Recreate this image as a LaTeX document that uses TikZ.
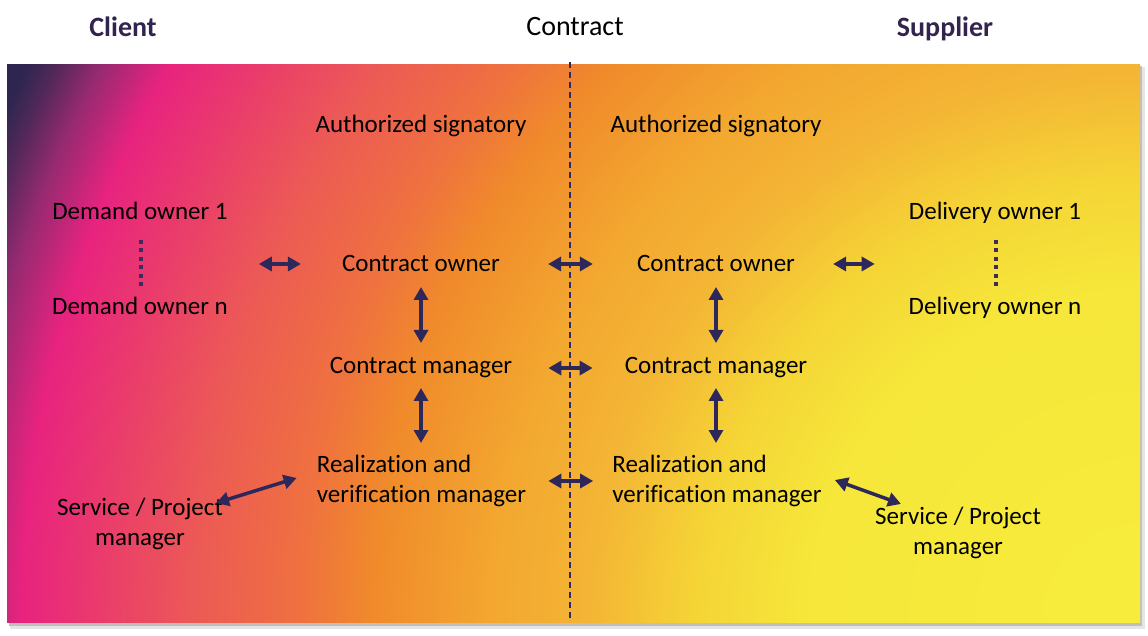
\documentclass[tikz,border=0pt]{standalone}
\usepackage{fontspec}
\setmainfont{Carlito}[Ligatures=NoCommon]
\usetikzlibrary{arrows.meta,calc}
\definecolor{g0}{HTML}{F7EC3B}
\definecolor{g1}{HTML}{F6E73A}
\definecolor{g2}{HTML}{F5D536}
\definecolor{g3}{HTML}{F4B535}
\definecolor{g4}{HTML}{F3A830}
\definecolor{g5}{HTML}{F08A2B}
\definecolor{g6}{HTML}{EF7040}
\definecolor{g7}{HTML}{EC5A55}
\definecolor{g8}{HTML}{EA3E6A}
\definecolor{g9}{HTML}{E8237F}
\definecolor{g10}{HTML}{952A70}
\definecolor{g11}{HTML}{4F2858}
\definecolor{g12}{HTML}{2E2650}
\definecolor{arrc}{HTML}{2E285A}
\definecolor{dotc}{HTML}{3E2B5E}
\definecolor{dashc}{HTML}{2B2A66}
\definecolor{titlec}{HTML}{33244F}
\pgfdeclareradialshading{bgrad}{\pgfpoint{0bp}{0bp}}{%
color(0bp)=(g0); color(330bp)=(g1); color(440bp)=(g2); color(547bp)=(g3);
color(641bp)=(g4); color(765bp)=(g5); color(840bp)=(g6); color(940bp)=(g7);
color(1030bp)=(g8); color(1115bp)=(g9); color(1175bp)=(g10); color(1215bp)=(g11);
color(1240bp)=(g12); color(1300bp)=(g12)}
\begin{document}
\begin{tikzpicture}[x=1pt,y=1pt,
  txt/.style={font=\fontsize{25pt}{30pt}\selectfont, inner sep=0pt, text=black},
  ttl/.style={font=\fontsize{28pt}{32pt}\selectfont\bfseries, inner sep=0pt, text=titlec},
  biarr/.style={line width=3.5pt, draw=arrc, {Triangle[length=13pt,width=14pt]}-{Triangle[length=13pt,width=14pt]}},
  dotl/.style={draw=dotc, line width=4.5pt, dash pattern=on 4pt off 4.5pt},
  midl/.style={draw=dashc, line width=1.5pt, dash pattern=on 6pt off 4pt}]
\useasboundingbox (0,0) rectangle (1148,635);
\fill[white] (0,0) rectangle (1148,635);
% shadow
\fill[black!10] (10,6) rectangle (1145,568);
\fill[black!25] (9,9) rectangle (1142,569);
% gradient panel
\begin{scope}
  \clip (7,13) rectangle (1140,570);
  \node[inner sep=0pt] (bgshade) at (1140,13) {\pgfuseshading{bgrad}};
\end{scope}
% contract divider
\coordinate (mtop) at (570,573);
\coordinate (mbot) at (570,17);
\draw[midl] (mtop) -- (mbot);
% titles
\node[ttl, anchor=base] (client) at (123,598) {Client};
\node[ttl, anchor=base] (supplier) at (945,598) {Supplier};
\node[font=\fontsize{28pt}{32pt}\selectfont, inner sep=0pt, anchor=base] (contract) at (575,599) {Contract};
% nodes
\node[txt, anchor=base] (ASL) at (421,502) {Authorized signatory};
\node[txt, anchor=base] (ASR) at (716,502) {Authorized signatory};
\node[txt, anchor=base] (Dem1) at (140,415) {Demand owner 1};
\node[txt, anchor=base] (DemN) at (140,320) {Demand owner n};
\node[txt, anchor=base] (Del1) at (995,415) {Delivery owner 1};
\node[txt, anchor=base] (DelN) at (995,320) {Delivery owner n};
\node[txt, anchor=base] (COL) at (421,363) {Contract owner};
\node[txt, anchor=base] (COR) at (716,363) {Contract owner};
\node[txt, anchor=base] (CML) at (421,261) {Contract manager};
\node[txt, anchor=base] (CMR) at (716,261) {Contract manager};
\node[txt, align=left] (RVL) at (421.5,154) {Realization and\\verification manager};
\node[txt, align=left] (RVR) at (717,154) {Realization and\\verification manager};
\node[txt, align=center] (SPL) at (140,111) {Service / Project\\manager};
\node[txt, align=center] (SPR) at (958,102) {Service / Project\\manager};
% dotted
\draw[dotl, shorten <=20pt, shorten >=28pt] ([xshift=1pt]Dem1.base) -- ([xshift=1pt]DemN.base);
\draw[dotl, shorten <=20pt, shorten >=28pt] ([xshift=1pt]Del1.base) -- ([xshift=1pt]DelN.base);
% arrows
\draw[biarr, shorten <=31pt, shorten >=41pt] (COL.west -| Dem1.east) -- (COL.west);
\draw[biarr, shorten <=38pt, shorten >=34pt] (COR.east) -- (COR.east -| Del1.west);
\draw[biarr, shorten <=48pt, shorten >=44pt] (COL.east) -- (COR.west);
\draw[biarr, shorten <=36pt, shorten >=32pt] (CML.east) -- (CMR.west);
\draw[biarr, shorten <=22pt, shorten >=19pt] (RVL.east) -- (RVR.west);
\draw[biarr, shorten <=15pt, shorten >=31pt] (COL.base) -- (CML.base);
\draw[biarr, shorten <=15pt, shorten >=31pt] (COR.base) -- (CMR.base);
\draw[biarr, shorten <=14pt, shorten >=38pt] (CML.base) -- (CML.base |- RVL.center);
\draw[biarr, shorten <=14pt, shorten >=38pt] (CMR.base) -- (CMR.base |- RVR.center);
\draw[biarr] ($(SPL.north east)+(-7,-5)$) -- ($(RVL.west)+(-20,3)$);
\draw[biarr] ($(RVR.east)+(13,1)$) -- ($(SPR.north west)+(26,3)$);
\end{tikzpicture}
\end{document}
